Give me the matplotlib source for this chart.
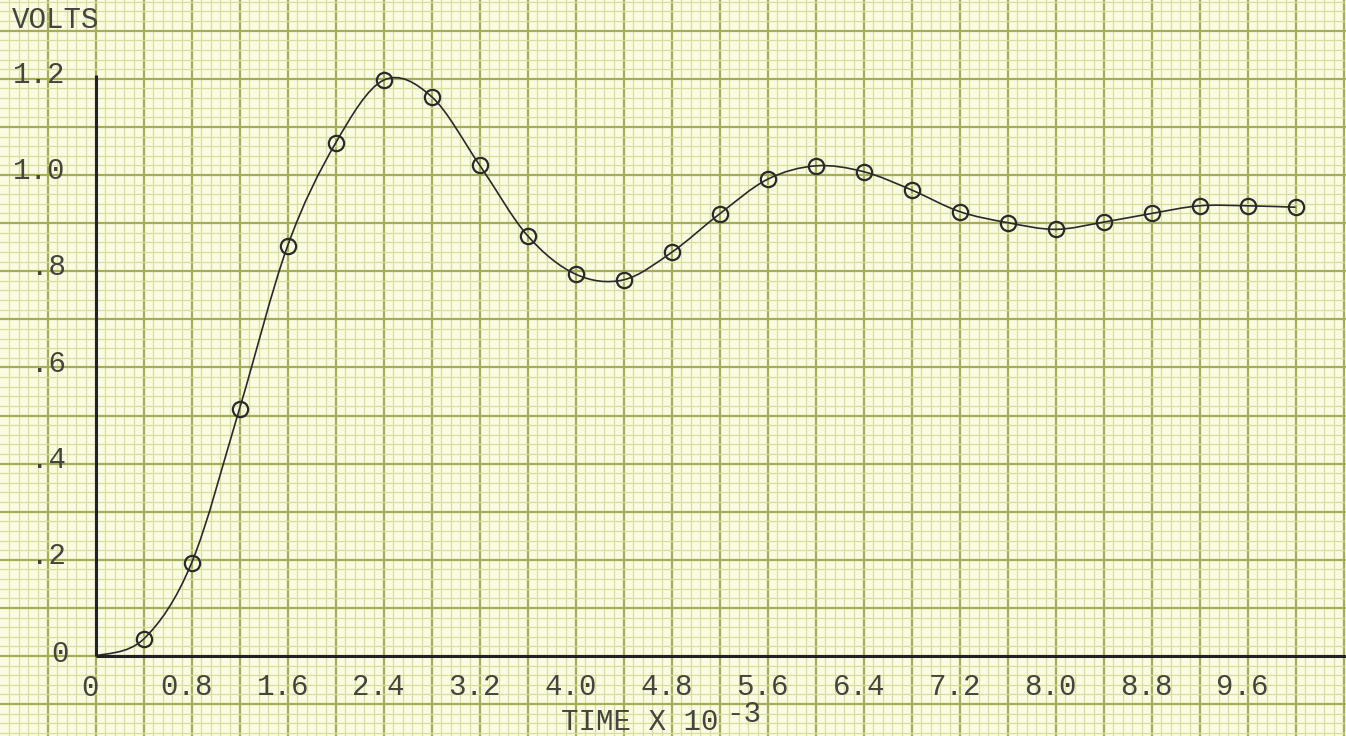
import matplotlib
matplotlib.use('Agg')
import matplotlib.pyplot as plt
from matplotlib.path import Path
from matplotlib.patches import PathPatch
from matplotlib.ticker import MultipleLocator
import numpy as np

# measured response, time in ms (x 10^-3 s), volts
time = [0.0, 0.4, 0.8, 1.2, 1.6, 2.0, 2.4, 2.8, 3.2, 3.6, 4.0, 4.4, 4.8,
        5.2, 5.6, 6.0, 6.4, 6.8, 7.2, 7.6, 8.0, 8.4, 8.8, 9.2, 9.6, 10.0]
volts = [0.0, 0.035, 0.193, 0.514, 0.852, 1.066, 1.197, 1.163, 1.021, 0.874,
         0.794, 0.782, 0.839, 0.919, 0.991, 1.019, 1.007, 0.969, 0.924, 0.901,
         0.887, 0.902, 0.920, 0.936, 0.936, 0.933]
x_ticks = [0.8, 1.6, 2.4, 3.2, 4.0, 4.8, 5.6, 6.4, 7.2, 8.0, 8.8, 9.6]
x_labels = ['0.8', '1.6', '2.4', '3.2', '4.0', '4.8', '5.6', '6.4', '7.2', '8.0', '8.8', '9.6']
y_ticks = [0.2, 0.4, 0.6, 0.8, 1.0, 1.2]
y_labels = ['.2', '.4', '.6', '.8', '1.0', '1.2']

paper = '#fbfbe2'
ink = '#45453c'
font = ['Liberation Mono', 'DejaVu Sans Mono']

fig = plt.figure(figsize=(13.46, 7.36), dpi=100)
fig.patch.set_facecolor(paper)
ax = fig.add_axes([0, 0, 1, 1])
ax.set_facecolor(paper)
ax.set_xlim(-95.5 / 120, (1346 - 95.5) / 120)
ax.set_ylim(-80 / 481, 656 / 481)

# graph paper
ax.xaxis.set_major_locator(MultipleLocator(0.4))
ax.xaxis.set_minor_locator(MultipleLocator(0.08))
ax.yaxis.set_major_locator(MultipleLocator(0.1))
ax.yaxis.set_minor_locator(MultipleLocator(0.02))
ax.grid(which='minor', color='#d9dea0', linewidth=0.9)
ax.grid(which='major', color='#a5ae55', linewidth=1.6)
ax.set_axisbelow(True)
ax.tick_params(which='both', length=0, labelbottom=False, labelleft=False)
for s in ax.spines.values():
    s.set_visible(False)

# hand drawn axes
ax.plot([0, 0], [0, 1.208], color='#222222', lw=2.2, solid_capstyle='butt')
ax.plot([0, 11], [0, 0], color='#222222', lw=2.2, solid_capstyle='butt')

# smooth curve through the points (Catmull-Rom as cubic beziers)
pts = np.column_stack([time, volts])
verts = [pts[0]]
codes = [Path.MOVETO]
n = len(pts)
for i in range(n - 1):
    p0 = pts[max(i - 1, 0)]
    p1 = pts[i]
    p2 = pts[i + 1]
    p3 = pts[min(i + 2, n - 1)]
    verts += [p1 + (p2 - p0) / 6, p2 - (p3 - p1) / 6, p2]
    codes += [Path.CURVE4] * 3
ax.add_patch(PathPatch(Path(verts, codes), fill=False, edgecolor='#2a2a2a', lw=1.2))

ax.plot(time[1:], volts[1:], 'o', mfc='none', mec='#2a2a2a', ms=11, mew=1.6)

# typed labels
ax.text(-0.05, -0.0665, '0', ha='center', va='center', fontsize=21, color=ink, family=font)
for xv, lab in zip(x_ticks, x_labels):
    ax.text(xv - 0.04, -0.064, lab, ha='center', va='center', fontsize=21, color=ink, family=font)
for yv, lab in zip(y_ticks, y_labels):
    ax.text(-0.25, yv + 0.008, lab, ha='right', va='center', fontsize=21, color=ink, family=font)
ax.text(-0.22, 0.005, '0', ha='right', va='center', fontsize=21, color=ink, family=font)
ax.text(-0.7, 1.322, 'VOLTS', ha='left', va='center', fontsize=21, color=ink, family=font)
ax.text(3.88, -0.137, 'TIME X 10', ha='left', va='center', fontsize=21, color=ink, family=font)
ax.text(5.26, -0.121, '-3', ha='left', va='center', fontsize=21, color=ink, family=font)

fig.savefig('out.png', dpi=100, facecolor=paper)
